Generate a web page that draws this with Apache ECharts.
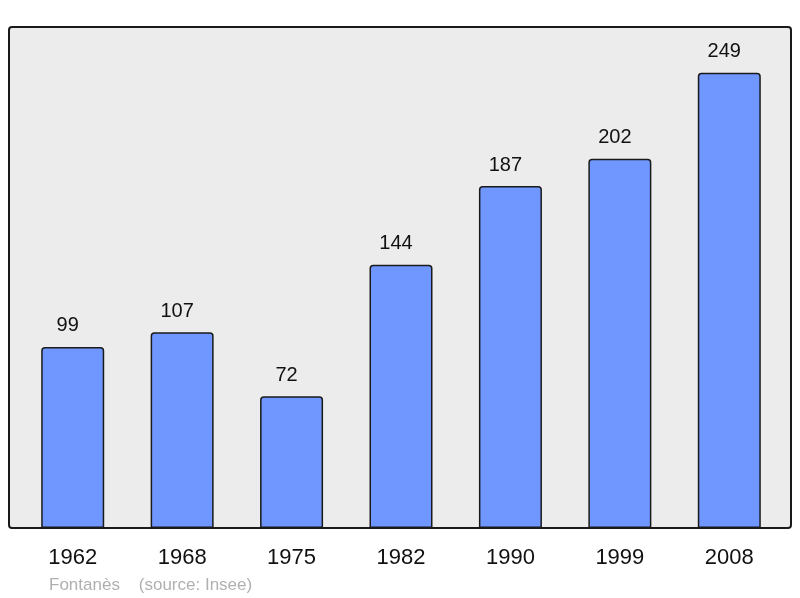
<!DOCTYPE html>
<html><head><meta charset="utf-8">
<script src="https://cdn.jsdelivr.net/npm/echarts@6/dist/echarts.min.js"></script>
<style>html,body{margin:0;padding:0;background:#fff}#c{width:800px;height:598px}</style>
</head><body><div id="c"></div>
<script>
const years = ['1962','1968','1975','1982','1990','1999','2008'];
const population = [99,107,72,144,187,202,249];
const footerText = 'Fontanès    (source: Insee)';

const chart = echarts.init(document.getElementById('c'));
chart.setOption({
  animation:false,
  backgroundColor:'#ffffff',
  textStyle:{fontFamily:'Liberation Sans, Arial, sans-serif'},
  grid:{left:18,right:16,top:27,bottom:70},
  graphic:[
    {type:'rect',z:-10,shape:{x:9,y:27,width:782,height:501,r:3},style:{fill:'#ececec',stroke:null}},
    {type:'rect',z:100,silent:true,shape:{x:9,y:27,width:782,height:501,r:3},style:{fill:null,stroke:'#1a1a1a',lineWidth:2}},
    {type:'text',left:49,top:577,style:{text:footerText,fill:'#b0b0b0',font:'17px "Liberation Sans", Arial, sans-serif'}}
  ],
  xAxis:{type:'category',data:years,axisLine:{show:false},axisTick:{show:false},
    axisLabel:{color:'#111',fontSize:22,margin:19,fontFamily:'Liberation Sans, Arial, sans-serif'}},
  yAxis:{type:'value',min:0,max:274,show:false,splitLine:{show:false}},
  series:[{type:'bar',data:population,barWidth:63,
    itemStyle:{color:'#7097ff',borderColor:'#1a1a1a',borderWidth:1.5,borderRadius:[3,3,0,0]},
    label:{show:true,position:'top',distance:11,offset:[-5,0],color:'#111',fontSize:20,fontFamily:'Liberation Sans, Arial, sans-serif'}}]
});
</script></body></html>
